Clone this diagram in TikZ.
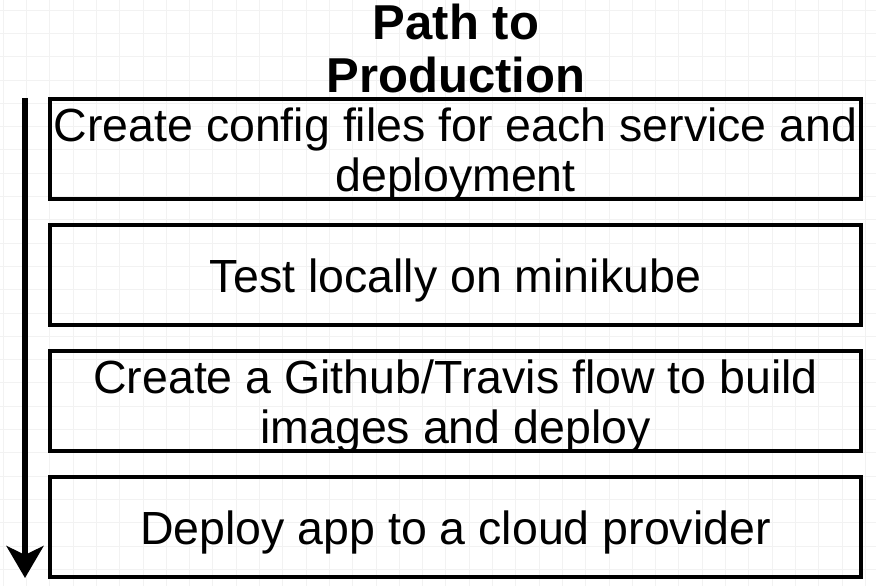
\documentclass[tikz,border=0pt]{standalone}
\usepackage{fontspec}
\setmainfont{Liberation Sans}
\usetikzlibrary{arrows.meta}
\tikzset{
  stepbox/.style={draw=black, line width=3.5pt, minimum width=811pt, minimum height=100pt,
    inner sep=0pt},
  steptext/.style={align=center, font=\fontsize{46.5}{50}\selectfont, inner sep=0pt, yshift=-5pt},
  titletext/.style={align=center, font=\bfseries\fontsize{49}{53}\selectfont, inner sep=0pt},
  gridline/.style={draw=black!5, line width=0.6pt}
}
\begin{document}
\begin{tikzpicture}[x=1pt,y=1pt]
\useasboundingbox (0,0) rectangle (876,586);
\fill[white] (0,0) rectangle (876,586);
% faint background grid
\foreach \i in {0,...,37} {
  \draw[gridline] ({3+\i*23.3},0) -- ({3+\i*23.3},586);
}
\foreach \j in {0,...,25} {
  \draw[gridline] (0,{586-10-\j*23.3}) -- (876,{586-10-\j*23.3});
}
\node[titletext] (title) at (456,538) {Path to\\Production};
\node[stepbox] (b1) at (455.5,437) {};
\node[stepbox] (b2) at (455.5,311) {};
\node[stepbox] (b3) at (455.5,185) {};
\node[stepbox] (b4) at (455.5,59) {};
\node[steptext] (t1) at (b1.center) {Create config files for each service and\\deployment};
\node[steptext] (t2) at (b2.center) {Test locally on minikube};
\node[steptext] (t3) at (b3.center) {Create a Github/Travis flow to build\\images and deploy};
\node[steptext] (t4) at (b4.center) {Deploy app to a cloud provider};
\coordinate (atop) at (25,488);
\coordinate (abot) at (25,8);
\draw[line width=6pt, -{Stealth[length=32pt, width=37pt, inset=9pt]}] (atop) -- (abot);
\end{tikzpicture}
\end{document}
